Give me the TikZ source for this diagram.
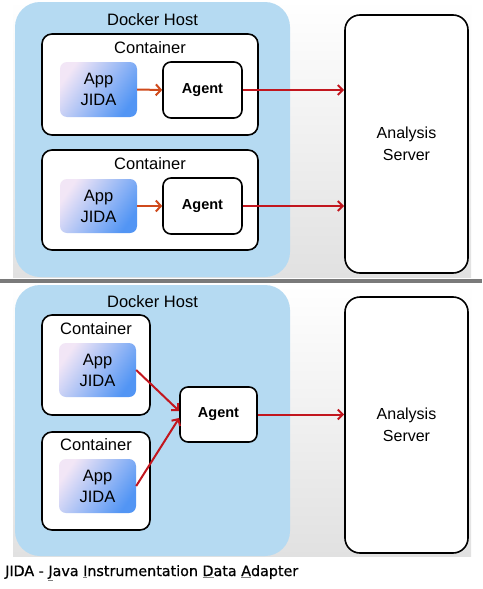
\documentclass[tikz,border=0pt]{standalone}
\usepackage{fontspec}
\setmainfont{Liberation Sans}
\newfontface\capfont[FakeBold=0.7]{DejaVu Sans}
\usetikzlibrary{arrows.meta,calc}
\definecolor{hostblue}{HTML}{B5DAF2}
\definecolor{lav}{HTML}{F2E6F6}
\definecolor{appblue}{HTML}{5295F4}
\definecolor{arrorange}{HTML}{CF4A1C}
\definecolor{arrred}{HTML}{C2161E}
\definecolor{panelgray}{HTML}{E1E1E1}
\definecolor{divgray}{HTML}{7A7A7A}
\newcommand{\ulc}[1]{{\color{gray}\underline{{\color{black}#1}}}}
\tikzset{
  lbl/.style={font=\fontsize{16.5}{21}\selectfont, inner sep=0pt, align=center},
  hostbox/.style={fill=hostblue, draw=none, rounded corners=25pt, inner sep=0pt},
  contbox/.style={fill=white, draw=black, line width=1.6pt, rounded corners=10pt, inner sep=0pt},
  appbox/.style={draw=none, rounded corners=7pt, left color=lav, right color=appblue, shading angle=55, inner sep=0pt, font=\fontsize{16.5}{21}\selectfont, align=center},
  agentbox/.style={fill=white, draw=black, line width=1.6pt, rounded corners=8pt, inner sep=0pt, font=\bfseries\fontsize{14.5}{16}\selectfont},
  srvbox/.style={fill=white, draw=black, line width=1.6pt, rounded corners=15pt, inner sep=0pt, font=\fontsize{16}{22}\selectfont, align=center},
  orarrow/.style={draw=arrorange, line width=2pt, -{Straight Barb[length=5pt,width=11pt]}},
  redarrow/.style={draw=arrred, line width=2pt, -{Straight Barb[length=5pt,width=10pt]}},
}
\begin{document}
\begin{tikzpicture}[x=1pt,y=-1pt]
\useasboundingbox (0,0) rectangle (482,589);
\fill[white] (0,0) rectangle (482,589);
% panels
\shade[top color=white, bottom color=panelgray] (13,0) rectangle (471,277);
\shade[top color=white, bottom color=panelgray] (13,284) rectangle (471,556);
\fill[divgray] (0,279) rectangle (482,283);

% ---------- top ----------
\node[hostbox, minimum width=275pt, minimum height=275pt] (host1) at (152.5,139.5) {};
\node[lbl] (hostlbl1) at (152.5,20) {Docker Host};
\node[contbox, minimum width=216pt, minimum height=101pt] (c1) at (150,84.5) {};
\node[lbl] (c1lbl) at (150,48) {Container};
\node[appbox, minimum width=77pt, minimum height=55pt] (app1) at (98.5,89.5) {App\\JIDA};
\node[agentbox, minimum width=79pt, minimum height=56pt] (ag1) at (202.5,90) {Agent};
\node[contbox, minimum width=216pt, minimum height=100pt] (c2) at (150,200) {};
\node[lbl] (c2lbl) at (150,164) {Container};
\node[appbox, minimum width=77pt, minimum height=54pt] (app2) at (98.5,206) {App\\JIDA};
\node[agentbox, minimum width=79pt, minimum height=56pt] (ag2) at (202.5,206) {Agent};
\node[srvbox, minimum width=123pt, minimum height=258pt] (srv1) at (406.5,144) {Analysis\\Server};
\draw[orarrow] (app1.east) -- (ag1.west);
\draw[orarrow] (app2.east) -- (ag2.west);
\draw[redarrow] (ag1.east) -- (ag1.east -| srv1.west);
\draw[redarrow] (ag2.east) -- (ag2.east -| srv1.west);

% ---------- bottom ----------
\node[hostbox, minimum width=275pt, minimum height=271pt] (host2) at (152.5,420.5) {};
\node[lbl] (hostlbl2) at (152.5,302) {Docker Host};
\node[contbox, minimum width=108pt, minimum height=100pt] (c3) at (96,365) {};
\node[lbl] (c3lbl) at (96,329) {Container};
\node[appbox, minimum width=77pt, minimum height=54pt] (app3) at (97.5,370) {App\\JIDA};
\node[contbox, minimum width=108pt, minimum height=98pt] (c4) at (96,481) {};
\node[lbl] (c4lbl) at (96,445) {Container};
\node[appbox, minimum width=77pt, minimum height=54pt] (app4) at (97.5,486) {App\\JIDA};
\node[agentbox, minimum width=77pt, minimum height=55pt] (ag3) at (218.5,414.5) {Agent};
\node[srvbox, minimum width=123pt, minimum height=256pt] (srv2) at (406.5,425) {Analysis\\Server};
\draw[redarrow] (app3.east) -- (ag3.175);
\draw[redarrow] (app4.east) -- (ag3.185);
\draw[redarrow] (ag3.east) -- (ag3.east -| srv2.west);

% caption
\node[anchor=west, inner sep=0pt, font=\capfont\fontsize{14.3}{16}\selectfont] (cap) at (5,573)
  {JIDA - \ulc{J}ava \ulc{I}nstrumentation \ulc{D}ata \ulc{A}dapter};
\end{tikzpicture}
\end{document}
